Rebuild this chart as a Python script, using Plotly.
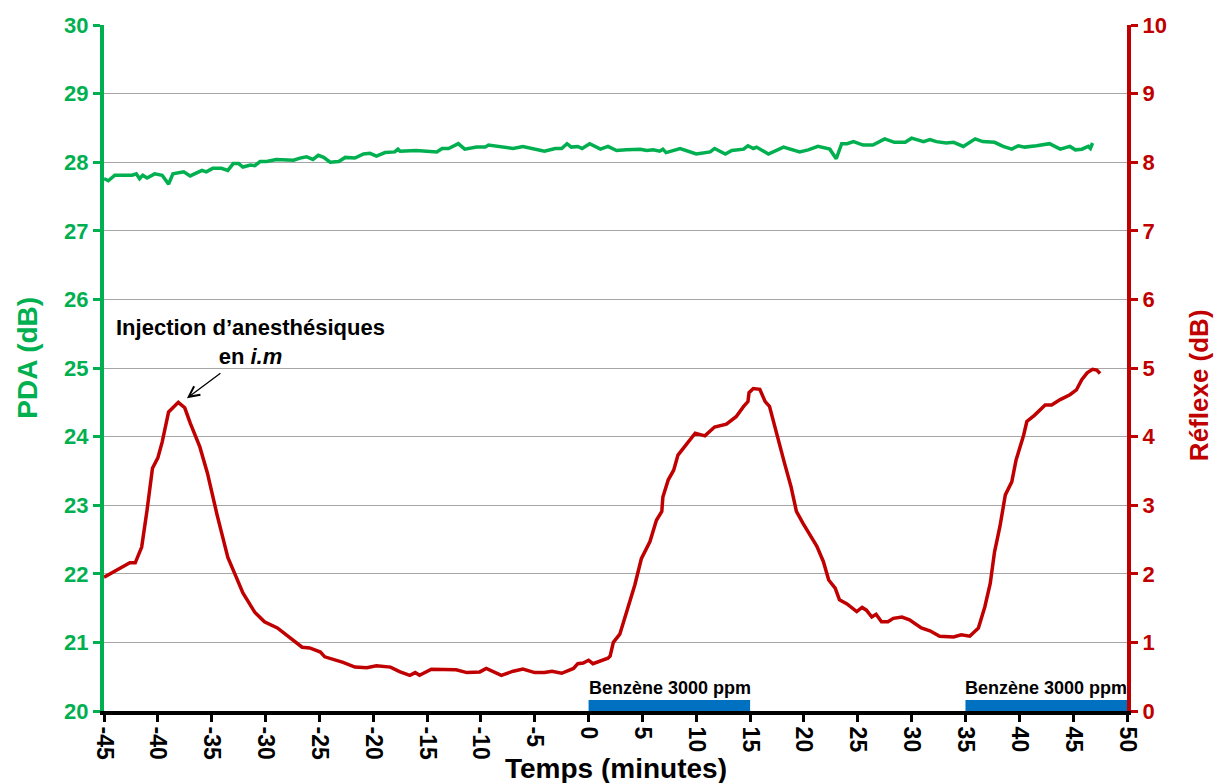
import plotly.graph_objects as go

# ---------------- data ----------------
x_ticks = list(range(-45, 51, 5))
pda_ticks = list(range(20, 31))
reflex_ticks = list(range(0, 11))

t_pda = [-45.0, -44.6, -44.0, -42.4, -42.0, -41.7, -41.4, -41.0, -40.3, -39.6, -39.0, -38.6,
         -37.6, -37.0, -35.9, -35.5, -34.9, -34.1, -33.5, -33.0, -32.5, -32.1, -31.4, -31.0,
         -30.5, -29.9, -29.0, -27.4, -26.8, -26.2, -25.6, -25.1, -24.6, -24.0, -23.2, -22.6,
         -21.7, -20.9, -20.3, -19.7, -18.9, -18.0, -17.7, -17.5, -16.0, -15.2, -14.1, -13.6,
         -13.0, -12.1, -11.5, -10.4, -9.6, -9.3, -8.2, -7.0, -6.1, -5.1, -4.1, -3.1, -2.5,
         -2.0, -1.6, -1.0, -0.6, 0.1, 1.1, 1.8, 2.6, 3.5, 4.8, 5.4, 6.0, 6.6, 6.9, 7.2, 8.5,
         10.0, 11.3, 11.7, 12.7, 13.3, 14.4, 14.8, 15.3, 15.6, 16.7, 18.1, 19.6, 20.4, 21.3,
         22.4, 23.0, 23.5, 24.0, 24.6, 25.5, 26.4, 27.5, 28.4, 29.4, 30.0, 31.1, 31.7, 32.3,
         33.2, 33.9, 34.8, 35.9, 36.6, 37.7, 38.5, 39.3, 39.9, 40.5, 41.6, 42.8, 43.8, 44.7,
         45.2, 45.8, 46.4, 46.6, 46.8]
pda = [27.76, 27.73, 27.81, 27.81, 27.83, 27.76, 27.81, 27.77, 27.83, 27.81, 27.68, 27.83,
       27.86, 27.80, 27.88, 27.86, 27.91, 27.91, 27.88, 27.98, 27.98, 27.93, 27.96, 27.95,
       28.01, 28.01, 28.04, 28.03, 28.06, 28.08, 28.04, 28.10, 28.07, 28.00, 28.01, 28.07,
       28.06, 28.12, 28.13, 28.09, 28.14, 28.15, 28.19, 28.16, 28.17, 28.16, 28.15, 28.20,
       28.20, 28.27, 28.19, 28.22, 28.22, 28.25, 28.22, 28.20, 28.23, 28.20, 28.16, 28.20,
       28.20, 28.27, 28.22, 28.23, 28.20, 28.27, 28.19, 28.23, 28.17, 28.18, 28.19, 28.17,
       28.18, 28.16, 28.19, 28.14, 28.20, 28.12, 28.15, 28.20, 28.12, 28.17, 28.19, 28.24,
       28.20, 28.22, 28.12, 28.22, 28.15, 28.18, 28.23, 28.19, 28.05, 28.27, 28.27, 28.30,
       28.25, 28.25, 28.34, 28.29, 28.29, 28.35, 28.30, 28.33, 28.30, 28.28, 28.29, 28.23,
       28.34, 28.30, 28.29, 28.23, 28.19, 28.24, 28.22, 28.24, 28.27, 28.19, 28.23, 28.18,
       28.19, 28.23, 28.20, 28.28]

t_reflex = [-45.0, -43.5, -42.6, -42.1, -41.5, -41.0, -40.5, -40.0, -39.6, -39.0, -38.1, -37.5,
            -37.0, -36.1, -35.4, -34.5, -33.5, -32.8, -32.1, -31.0, -30.1, -28.9, -27.7, -26.6,
            -25.9, -24.9, -24.5, -22.8, -21.7, -20.6, -19.7, -18.4, -17.5, -16.6, -16.1, -15.7,
            -14.6, -13.6, -12.3, -11.3, -10.1, -9.5, -8.1, -7.0, -6.1, -5.0, -4.1, -3.4, -2.5,
            -1.4, -1.0, -0.5, 0.0, 0.4, 1.2, 1.8, 2.0, 2.3, 2.9, 4.3, 4.9, 5.7, 6.3, 6.8, 6.9,
            7.4, 7.9, 8.3, 8.9, 9.9, 10.8, 11.7, 12.8, 13.7, 14.4, 14.8, 14.9, 15.3, 15.9, 16.4,
            16.8, 17.6, 18.2, 18.8, 19.3, 19.9, 20.5, 21.2, 21.8, 22.3, 22.9, 23.3, 24.0, 24.9,
            25.4, 25.8, 26.3, 26.7, 27.2, 27.8, 28.3, 29.1, 29.8, 30.9, 31.7, 32.6, 33.9, 34.6,
            35.4, 36.2, 36.8, 37.3, 37.7, 38.2, 38.7, 39.3, 39.7, 40.4, 40.7, 41.4, 42.4, 43.0,
            43.8, 44.7, 45.3, 45.8, 46.3, 46.8, 47.2, 47.5]
reflex = [1.95, 2.08, 2.16, 2.16, 2.39, 2.93, 3.54, 3.69, 3.92, 4.36, 4.50, 4.42,
          4.20, 3.85, 3.47, 2.86, 2.24, 1.98, 1.72, 1.44, 1.30, 1.21, 1.06, 0.93,
          0.92, 0.86, 0.79, 0.71, 0.64, 0.63, 0.66, 0.64, 0.57, 0.52, 0.56, 0.52,
          0.61, 0.61, 0.60, 0.56, 0.57, 0.62, 0.52, 0.58, 0.61, 0.56, 0.56, 0.58, 0.55,
          0.62, 0.69, 0.70, 0.74, 0.69, 0.73, 0.77, 0.80, 1.00, 1.12, 1.84, 2.22, 2.47, 2.78, 2.91, 3.12,
          3.37, 3.51, 3.73, 3.85, 4.05, 4.01, 4.14, 4.18, 4.29, 4.44, 4.51, 4.64, 4.70, 4.69, 4.51,
          4.44, 3.95, 3.61, 3.27, 2.91, 2.74, 2.59, 2.40, 2.18, 1.91, 1.79, 1.62, 1.56, 1.45,
          1.51, 1.47, 1.37, 1.41, 1.30, 1.30, 1.35, 1.37, 1.33, 1.21, 1.17, 1.09, 1.08, 1.11,
          1.09, 1.21, 1.52, 1.86, 2.32, 2.69, 3.15, 3.34, 3.66, 4.02, 4.22, 4.31, 4.46, 4.46,
          4.54, 4.61, 4.68, 4.83, 4.93, 4.98, 4.97, 4.92]

benzene_start = [0, 35]
benzene_end = [15, 50]
benzene_label = "Benzène 3000 ppm"

injection_point = (-37.3, 4.56)   # (minutes, Réflexe dB)
injection_text = "Injection d’anesthésiques<br>en <i>i.m</i>"

# ---------------- style ----------------
GREEN = "#00B050"
RED = "#C00000"
BLUE = "#0070C0"
FONT = "Liberation Sans, Arial, sans-serif"

fig = go.Figure()
fig.add_trace(go.Scatter(x=t_pda, y=pda, mode="lines", line=dict(color=GREEN, width=3.5),
                         yaxis="y", showlegend=False, hoverinfo="skip"))
fig.add_trace(go.Scatter(x=t_reflex, y=reflex, mode="lines", line=dict(color=RED, width=3.5),
                         yaxis="y2", showlegend=False, hoverinfo="skip"))

# benzene exposure bars
for s, e in zip(benzene_start, benzene_end):
    fig.add_shape(type="rect", xref="x", yref="paper", x0=s, x1=e, y0=0.0, y1=0.016,
                  fillcolor=BLUE, line=dict(width=0), layer="above")
    fig.add_annotation(x=s, xref="x", y=0.034, yref="paper", text=f"<b>{benzene_label}</b>",
                       showarrow=False, xanchor="left", yanchor="middle", xshift=-2,
                       font=dict(family=FONT, size=18, color="black"))

# injection arrow + text
fig.add_annotation(x=injection_point[0], y=injection_point[1], xref="x", yref="y2",
                   ax=35, ay=-26, axref="pixel", ayref="pixel", text="", showarrow=True,
                   arrowhead=5, arrowsize=1.6, arrowwidth=1.3, arrowcolor="black")
fig.add_annotation(x=-31.4, y=25.38, xref="x", yref="y", text=f"<b>{injection_text}</b>",
                   showarrow=False, align="center", xanchor="center", yanchor="middle",
                   font=dict(family=FONT, size=22, color="black"))

# axis titles
fig.add_annotation(x=0.5, y=0, xref="paper", yref="paper", yshift=-57, text="<b>Temps (minutes)</b>",
                   showarrow=False, xanchor="center", yanchor="middle",
                   font=dict(family=FONT, size=28, color="black"))
fig.add_annotation(x=0, y=0.515, xref="paper", yref="paper", xshift=-76, text="<b>PDA (dB)</b>",
                   showarrow=False, textangle=-90, xanchor="center", yanchor="middle",
                   font=dict(family=FONT, size=28, color=GREEN))
fig.add_annotation(x=1, y=0.475, xref="paper", yref="paper", xshift=72, text="<b>Réflexe (dB)</b>",
                   showarrow=False, textangle=-90, xanchor="center", yanchor="middle",
                   font=dict(family=FONT, size=26, color=RED))

fig.update_layout(
    width=1216, height=783,
    margin=dict(l=104, r=89, t=25, b=72),
    paper_bgcolor="white", plot_bgcolor="white",
    font=dict(family=FONT),
    xaxis=dict(range=[-45, 50], tickvals=x_ticks, ticktext=[f"<b>{v}</b>" for v in x_ticks],
               tickangle=90, ticks="outside", ticklen=7, tickwidth=3, tickcolor="black",
               showline=True, linecolor="black", linewidth=4, showgrid=False, zeroline=False,
               tickfont=dict(family=FONT, size=23, color="black")),
    yaxis=dict(range=[20, 30], tickvals=pda_ticks, ticktext=[f"<b>{v}</b>" for v in pda_ticks],
               ticks="outside", ticklen=7, tickwidth=3, tickcolor=GREEN,
               showline=True, linecolor=GREEN, linewidth=4, showgrid=True,
               gridcolor="#A6A6A6", gridwidth=1, zeroline=False,
               tickfont=dict(family=FONT, size=22, color=GREEN)),
    yaxis2=dict(range=[0, 10], tickvals=reflex_ticks, ticktext=[f"<b>{v}</b>" for v in reflex_ticks],
                overlaying="y", side="right", ticks="outside", ticklen=7, tickwidth=3, tickcolor=RED,
                showline=True, linecolor=RED, linewidth=4, showgrid=False, zeroline=False,
                tickfont=dict(family=FONT, size=22, color=RED)),
)

# remove the browser's default page margin so the figure fills the window exactly
fig.write_html("out.html", config={"displayModeBar": False},
               post_script="document.body.style.margin='0';document.body.style.overflow='hidden';")
